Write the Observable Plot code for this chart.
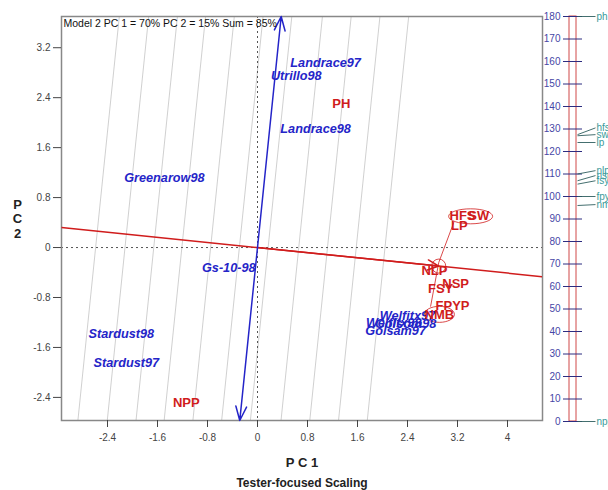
<!DOCTYPE html>
<html><head><meta charset="utf-8">
<script src="https://cdn.jsdelivr.net/npm/d3@7"></script>
<script src="https://cdn.jsdelivr.net/npm/@observablehq/plot@0.6"></script>
<style>
body{margin:0;background:#fff}
#wrap{position:relative;width:608px;height:490px;overflow:hidden}
#wrap svg{position:absolute;top:0}
</style>
</head><body><div id="wrap"></div>
<script>
// ---- data ----
const genotypes = ["Landrace97","Utrillo98","Landrace98","Greenarow98","Gs-10-98","Stardust98","Stardust97","Golsam97","Golsom98","Welfitx98","Welfitx97"];
const genoPC1 = [1.09, 0.62, 0.93, -1.49, -0.46, -2.18, -2.10, 2.21, 2.37, 2.18, 2.40];
const genoPC2 = [2.96, 2.75, 1.90, 1.12, -0.33, -1.39, -1.84, -1.34, -1.23, -1.20, -1.09];

const traits = ["PH","HFS","SW","LP","NLP","NSP","FSY","FPYP","NMB","NPP"];
const traitPC1 = [1.34, 3.28, 3.54, 3.23, 2.83, 3.17, 2.93, 3.12, 2.91, -1.14];
const traitPC2 = [2.30, 0.51, 0.51, 0.35, -0.37, -0.58, -0.66, -0.93, -1.07, -2.48];

const avgEnv = [2.90, -0.297];                 // average-environment point (arrow tip / circle)
const connector = [[3.14, 0.40], [2.90, -0.24], [2.77, -0.94]];
const clusterCenters = [[3.41, 0.50], [2.91, -1.07]];
const clusterRadii = [[22, 7.5], [15, 8]];
const gridX0 = [-2.59, -2.12, -1.66, -1.21, -0.75, -0.29, 0.17, 0.66, 1.12, 1.58, 2.04];

const xTicks = [-2.4, -1.6, -0.8, 0, 0.8, 1.6, 2.4, 3.2, 4];
const yTicks = [-2.4, -1.6, -0.8, 0, 0.8, 1.6, 2.4, 3.2];
const xDomain = [-3.136, 4.56];
const yDomain = [-2.77, 3.70];

const titleText = "Model 2 PC 1 = 70% PC 2 = 15% Sum = 85%";

const scaleTicks = [0,10,20,30,40,50,60,70,80,90,100,110,120,130,140,150,160,170,180];
const scaleNames = ["ph","hfs","sw","lp","nlp","nsp","fsy","fpyp","nmb","npp"];
const scaleValues = [180, 127.5, 127, 124, 110, 107, 105.5, 100, 96, 0];
const scaleLabelPos = [180, 130.5, 127.5, 124, 111.5, 109.3, 107, 100, 96.4, 0];

// ---- styling ----
const FONT = "'Liberation Sans', Arial, Helvetica, sans-serif";
const RED = "#d01c1c", BLUE = "#2424c8";

const m = -avgEnv[1] / avgEnv[0]; // dx per unit y along AEC ordinate
const gridData = gridX0.map(x0 => ({x1: x0 + yDomain[0]*m, y1: yDomain[0], x2: x0 + yDomain[1]*m, y2: yDomain[1]}));
const atc = [{x1: xDomain[0], y1: xDomain[0]*avgEnv[1]/avgEnv[0], x2: xDomain[1], y2: xDomain[1]*avgEnv[1]/avgEnv[0]}];
const aec = [[yDomain[1]*m, yDomain[1]], [yDomain[0]*m, yDomain[0]]];

function ellipseSymbol(rx, ry) {
  const k = 0.5523;
  return {draw(ctx) {
    ctx.moveTo(rx, 0);
    ctx.bezierCurveTo(rx, ry*k, rx*k, ry, 0, ry);
    ctx.bezierCurveTo(-rx*k, ry, -rx, ry*k, -rx, 0);
    ctx.bezierCurveTo(-rx, -ry*k, -rx*k, -ry, 0, -ry);
    ctx.bezierCurveTo(rx*k, -ry, rx, -ry*k, rx, 0);
    ctx.closePath();
  }};
}

const main = Plot.plot({
  width: 608, height: 490,
  marginLeft: 61, marginRight: 66, marginTop: 16, marginBottom: 70,
  x: {domain: xDomain},
  y: {domain: yDomain},
  style: {fontFamily: FONT, background: "white", overflow: "visible"},
  marks: [
    Plot.link(gridData, {x1: "x1", y1: "y1", x2: "x2", y2: "y2", stroke: "#c4c4c4", strokeWidth: 0.8, clip: true}),
    Plot.ruleY([0], {stroke: "#555", strokeDasharray: "2,3"}),
    Plot.ruleX([0], {stroke: "#555", strokeDasharray: "2,3"}),
    Plot.frame({stroke: "#888", strokeWidth: 1.5}),
    Plot.axisX({ticks: xTicks, tickSize: 7, tickPadding: 6, tickFormat: d => String(d), fontSize: 10, color: "#444", label: null}),
    Plot.axisY({ticks: yTicks, tickSize: 8, tickPadding: 3, tickFormat: d => String(d), fontSize: 10, color: "#444", label: null}),
    Plot.link(atc, {x1: "x1", y1: "y1", x2: "x2", y2: "y2", stroke: RED, strokeWidth: 1.5, clip: true}),
    Plot.arrow([avgEnv], {x1: () => 0, y1: () => 0, x2: d => d[0], y2: d => d[1], stroke: RED, strokeWidth: 1.5, headLength: 12, headAngle: 50}),
    Plot.arrow(aec, {x1: () => 0, y1: () => 0, x2: d => d[0], y2: d => d[1], stroke: BLUE, strokeWidth: 1.5, headLength: 15, headAngle: 42}),
    Plot.line(connector, {x: d => d[0], y: d => d[1], stroke: RED, strokeWidth: 0.8}),
    Plot.dot([avgEnv], {x: d => d[0], y: d => d[1], r: 7, stroke: RED, strokeWidth: 0.8, fill: "none"}),
    ...clusterCenters.map((c, i) => Plot.dot([c], {x: d => d[0], y: d => d[1], symbol: ellipseSymbol(...clusterRadii[i]), stroke: RED, strokeWidth: 0.8, fill: "none"})),
    Plot.text(genotypes, {x: (d, i) => genoPC1[i], y: (d, i) => genoPC2[i], text: d => d, fill: BLUE, fontSize: 12.7, fontWeight: "bold", fontStyle: "italic"}),
    Plot.text(traits, {x: (d, i) => traitPC1[i], y: (d, i) => traitPC2[i], text: d => d, fill: RED, fontSize: 13, fontWeight: "bold"}),
    Plot.text([titleText], {frameAnchor: "top-left", dx: 2, dy: 7, lineAnchor: "middle", textAnchor: "start", fontSize: 10.5, fill: "#111"}),
    Plot.text(["P C 1"], {frameAnchor: "bottom", dy: 42, lineAnchor: "middle", fontSize: 13, fontWeight: "bold", fill: "#222"}),
    Plot.text(["Tester-focused Scaling"], {frameAnchor: "bottom", dy: 63, lineAnchor: "middle", fontSize: 12, fontWeight: "bold", fill: "#222"}),
    Plot.text(["P\nC\n2"], {frameAnchor: "left", dx: -44, lineAnchor: "middle", textAnchor: "middle", lineHeight: 1.12, fontSize: 13, fontWeight: "bold", fill: "#222"})
  ]
});
main.style.left = "0px";

const side = Plot.plot({
  width: 70, height: 490,
  marginLeft: 0, marginRight: 0, marginTop: 16, marginBottom: 69,
  x: {domain: [0, 70], axis: null},
  y: {domain: [0, 180], axis: null},
  style: {fontFamily: FONT, background: "transparent", overflow: "visible"},
  marks: [
    Plot.rect([0], {x1: () => 31, x2: () => 38, y1: () => 0, y2: () => 180, stroke: "#d04848", strokeWidth: 1, fill: "none"}),
    Plot.ruleY(scaleTicks, {x1: () => 25, x2: () => 44, stroke: "#2c2c80", strokeWidth: 1}),
    Plot.text(scaleTicks, {x: () => 22, y: d => d, text: d => String(d), textAnchor: "end", fill: "#4646a6", fontSize: 10}),
    Plot.link(scaleNames, {x1: () => 39, x2: () => 57, y1: (d, i) => scaleValues[i], y2: (d, i) => scaleLabelPos[i], stroke: "#2f5f5f", strokeWidth: 0.9}),
    Plot.text(scaleNames, {x: () => 58, y: (d, i) => scaleLabelPos[i], text: d => d, textAnchor: "start", fill: "#3a9a9a", fontSize: 10})
  ]
});
side.style.left = "538px";

const wrap = document.getElementById("wrap");
wrap.appendChild(main);
wrap.appendChild(side);
</script></body></html>
